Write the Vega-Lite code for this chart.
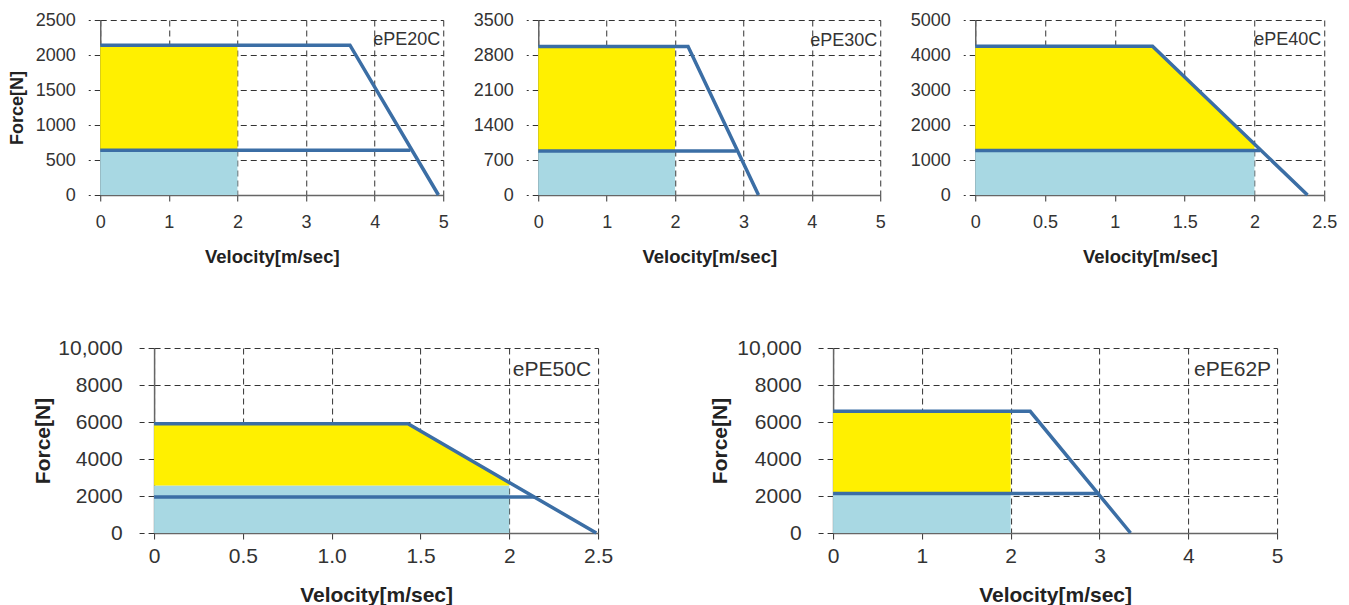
{
  "$schema": "https://vega.github.io/schema/vega-lite/v6.json",
  "background": "white",
  "padding": {"left": 8, "top": 11, "right": 5, "bottom": 0},
  "config": {
    "view": {"stroke": null},
    "font": "Liberation Sans",
    "axis": {
      "grid": true,
      "gridDash": [6, 4],
      "gridColor": "#333333",
      "gridOpacity": 1,
      "gridWidth": 1,
      "tickDash": [6, 4],
      "tickColor": "#333333",
      "tickWidth": 1,
      "tickCount": 12,
      "domainColor": "#666666",
      "domainWidth": 1.5,
      "labelColor": "#333333",
      "titleColor": "#222222",
      "labelFont": "Liberation Sans",
      "titleFont": "Liberation Sans",
      "titleFontWeight": "bold",
      "labelFlush": false,
      "labelOverlap": false,
      "zindex": 1
    }
  },
  "datasets": {
    "fill20": [
      {"zone": "rated", "v": 0, "top": 640, "bot": 0},
      {"zone": "rated", "v": 2, "top": 640, "bot": 0},
      {"zone": "peak", "v": 0, "top": 2140, "bot": 640},
      {"zone": "peak", "v": 2, "top": 2140, "bot": 640}
    ],
    "line20": [
      {"curve": "peak", "v": 0, "f": 2140},
      {"curve": "peak", "v": 3.64, "f": 2140},
      {"curve": "peak", "v": 4.93, "f": 0},
      {"curve": "rated", "v": 0, "f": 640},
      {"curve": "rated", "v": 4.52, "f": 640}
    ],
    "fill30": [
      {"zone": "rated", "v": 0, "top": 880, "bot": 0},
      {"zone": "rated", "v": 2, "top": 880, "bot": 0},
      {"zone": "peak", "v": 0, "top": 2970, "bot": 880},
      {"zone": "peak", "v": 2, "top": 2970, "bot": 880}
    ],
    "line30": [
      {"curve": "peak", "v": 0, "f": 2970},
      {"curve": "peak", "v": 2.19, "f": 2970},
      {"curve": "peak", "v": 3.22, "f": 0},
      {"curve": "rated", "v": 0, "f": 880},
      {"curve": "rated", "v": 2.9, "f": 880}
    ],
    "fill40": [
      {"zone": "rated", "v": 0, "top": 1270, "bot": 0},
      {"zone": "rated", "v": 2, "top": 1270, "bot": 0},
      {"zone": "peak", "v": 0, "top": 4250, "bot": 1270},
      {"zone": "peak", "v": 1.27, "top": 4250, "bot": 1270},
      {"zone": "peak", "v": 2, "top": 1455, "bot": 1270}
    ],
    "line40": [
      {"curve": "peak", "v": 0, "f": 4250},
      {"curve": "peak", "v": 1.27, "f": 4250},
      {"curve": "peak", "v": 2.38, "f": 0},
      {"curve": "rated", "v": 0, "f": 1270},
      {"curve": "rated", "v": 2.04, "f": 1270}
    ],
    "fill50": [
      {"zone": "rated", "v": 0, "top": 2570, "bot": 0},
      {"zone": "rated", "v": 2, "top": 2570, "bot": 0},
      {"zone": "peak", "v": 0, "top": 5900, "bot": 2570},
      {"zone": "peak", "v": 1.43, "top": 5900, "bot": 2570},
      {"zone": "peak", "v": 2, "top": 2717, "bot": 2570}
    ],
    "line50": [
      {"curve": "peak", "v": 0, "f": 5900},
      {"curve": "peak", "v": 1.43, "f": 5900},
      {"curve": "peak", "v": 2.49, "f": 0},
      {"curve": "rated", "v": 0, "f": 1950},
      {"curve": "rated", "v": 2.14, "f": 1950}
    ],
    "fill62": [
      {"zone": "rated", "v": 0, "top": 2130, "bot": 0},
      {"zone": "rated", "v": 2, "top": 2130, "bot": 0},
      {"zone": "peak", "v": 0, "top": 6580, "bot": 2130},
      {"zone": "peak", "v": 2, "top": 6580, "bot": 2130}
    ],
    "line62": [
      {"curve": "peak", "v": 0, "f": 6580},
      {"curve": "peak", "v": 2.22, "f": 6580},
      {"curve": "peak", "v": 3.35, "f": 0},
      {"curve": "rated", "v": 0, "f": 2130},
      {"curve": "rated", "v": 3.0, "f": 2130}
    ]
  },
  "spacing": 71,
  "center": true,
  "vconcat": [
    {
      "hconcat": [
        {
          "width": 343, "height": 175,
          "layer": [
            {
              "data": {"name": "fill20"},
              "mark": {"type": "area", "opacity": 1},
              "encoding": {
                "x": {"field": "v", "type": "quantitative", "scale": {"domain": [0, 5], "nice": false},
                  "axis": {"values": [0, 1, 2, 3, 4, 5], "tickCount": 12, "format": "d", "labelOverlap": false, "title": "Velocity[m/sec]", "labelFontSize": 18, "titleFontSize": 18.5, "tickSize": 6, "labelPadding": 12, "titlePadding": 16}},
                "y": {"field": "top", "type": "quantitative", "scale": {"domain": [0, 2500], "nice": false},
                  "axis": {"values": [0, 500, 1000, 1500, 2000, 2500], "tickCount": 12, "format": "d", "labelOverlap": false, "title": "Force[N]", "labelFontSize": 18, "titleFontSize": 18, "tickSize": 12, "labelPadding": 13, "titlePadding": 9}},
                "y2": {"field": "bot"},
                "color": {"field": "zone", "type": "nominal", "scale": {"domain": ["rated", "peak"], "range": ["#a8d8e3", "#fff000"]}, "legend": null}
              }
            },
            {
              "data": {"name": "line20"},
              "mark": {"type": "line", "color": "#3b6ea5", "strokeWidth": 3.5},
              "encoding": {
                "x": {"field": "v", "type": "quantitative"},
                "y": {"field": "f", "type": "quantitative"},
                "detail": {"field": "curve"}
              }
            },
            {
              "data": {"values": [{"label": "ePE20C"}]},
              "mark": {"type": "text", "align": "right", "baseline": "middle", "dx": -3, "dy": 20, "fontSize": 18, "color": "#333333"},
              "encoding": {"x": {"datum": 5}, "y": {"datum": 2500}, "text": {"field": "label"}}
            }
          ]
        },
        {
          "width": 342, "height": 175,
          "layer": [
            {
              "data": {"name": "fill30"},
              "mark": {"type": "area", "opacity": 1},
              "encoding": {
                "x": {"field": "v", "type": "quantitative", "scale": {"domain": [0, 5], "nice": false},
                  "axis": {"values": [0, 1, 2, 3, 4, 5], "tickCount": 12, "format": "d", "labelOverlap": false, "title": "Velocity[m/sec]", "labelFontSize": 18, "titleFontSize": 18.5, "tickSize": 6, "labelPadding": 12, "titlePadding": 16}},
                "y": {"field": "top", "type": "quantitative", "scale": {"domain": [0, 3500], "nice": false},
                  "axis": {"values": [0, 700, 1400, 2100, 2800, 3500], "tickCount": 12, "format": "d", "labelOverlap": false, "title": null, "labelFontSize": 18, "tickSize": 12, "labelPadding": 13}},
                "y2": {"field": "bot"},
                "color": {"field": "zone", "type": "nominal", "scale": {"domain": ["rated", "peak"], "range": ["#a8d8e3", "#fff000"]}, "legend": null}
              }
            },
            {
              "data": {"name": "line30"},
              "mark": {"type": "line", "color": "#3b6ea5", "strokeWidth": 3.5},
              "encoding": {
                "x": {"field": "v", "type": "quantitative"},
                "y": {"field": "f", "type": "quantitative"},
                "detail": {"field": "curve"}
              }
            },
            {
              "data": {"values": [{"label": "ePE30C"}]},
              "mark": {"type": "text", "align": "right", "baseline": "middle", "dx": -3, "dy": 21, "fontSize": 18, "color": "#333333"},
              "encoding": {"x": {"datum": 5}, "y": {"datum": 3500}, "text": {"field": "label"}}
            }
          ]
        },
        {
          "width": 349, "height": 175,
          "layer": [
            {
              "data": {"name": "fill40"},
              "mark": {"type": "area", "opacity": 1},
              "encoding": {
                "x": {"field": "v", "type": "quantitative", "scale": {"domain": [0, 2.5], "nice": false},
                  "axis": {"values": [0, 0.5, 1, 1.5, 2, 2.5], "tickCount": 12, "format": "~g", "labelOverlap": false, "title": "Velocity[m/sec]", "labelFontSize": 18, "titleFontSize": 18.5, "tickSize": 6, "labelPadding": 12, "titlePadding": 16}},
                "y": {"field": "top", "type": "quantitative", "scale": {"domain": [0, 5000], "nice": false},
                  "axis": {"values": [0, 1000, 2000, 3000, 4000, 5000], "tickCount": 12, "format": "d", "labelOverlap": false, "title": null, "labelFontSize": 18, "tickSize": 12, "labelPadding": 13}},
                "y2": {"field": "bot"},
                "color": {"field": "zone", "type": "nominal", "scale": {"domain": ["rated", "peak"], "range": ["#a8d8e3", "#fff000"]}, "legend": null}
              }
            },
            {
              "data": {"name": "line40"},
              "mark": {"type": "line", "color": "#3b6ea5", "strokeWidth": 3.5},
              "encoding": {
                "x": {"field": "v", "type": "quantitative"},
                "y": {"field": "f", "type": "quantitative"},
                "detail": {"field": "curve"}
              }
            },
            {
              "data": {"values": [{"label": "ePE40C"}]},
              "mark": {"type": "text", "align": "right", "baseline": "middle", "dx": -3, "dy": 20, "fontSize": 18, "color": "#333333"},
              "encoding": {"x": {"datum": 2.5}, "y": {"datum": 5000}, "text": {"field": "label"}}
            }
          ]
        }
      ],
      "spacing": 95,
      "bounds": "flush"
    },
    {
      "hconcat": [
        {
          "width": 444, "height": 185,
          "layer": [
            {
              "data": {"name": "fill50"},
              "mark": {"type": "area", "opacity": 1},
              "encoding": {
                "x": {"field": "v", "type": "quantitative", "scale": {"domain": [0, 2.5], "nice": false},
                  "axis": {"values": [0, 0.5, 1, 1.5, 2, 2.5], "tickCount": 12, "labelExpr": "datum.value == 1 ? '1.0' : format(datum.value, '~g')", "labelOverlap": false, "title": "Velocity[m/sec]", "labelFontSize": 21, "titleFontSize": 21, "tickSize": 10, "labelPadding": 2, "titlePadding": 18}},
                "y": {"field": "top", "type": "quantitative", "scale": {"domain": [0, 10000], "nice": false},
                  "axis": {"values": [0, 2000, 4000, 6000, 8000, 10000], "tickCount": 12, "labelExpr": "datum.value == 10000 ? '10,000' : format(datum.value, 'd')", "labelOverlap": false, "title": "Force[N]", "labelFontSize": 21, "titleFontSize": 21, "tickSize": 15, "labelPadding": 17, "titlePadding": 4}},
                "y2": {"field": "bot"},
                "color": {"field": "zone", "type": "nominal", "scale": {"domain": ["rated", "peak"], "range": ["#a8d8e3", "#fff000"]}, "legend": null}
              }
            },
            {
              "data": {"name": "line50"},
              "mark": {"type": "line", "color": "#3b6ea5", "strokeWidth": 3.5},
              "encoding": {
                "x": {"field": "v", "type": "quantitative"},
                "y": {"field": "f", "type": "quantitative"},
                "detail": {"field": "curve"}
              }
            },
            {
              "data": {"values": [{"label": "ePE50C"}]},
              "mark": {"type": "text", "align": "right", "baseline": "middle", "dx": -7, "dy": 22, "fontSize": 21, "color": "#333333"},
              "encoding": {"x": {"datum": 2.5}, "y": {"datum": 10000}, "text": {"field": "label"}}
            }
          ]
        },
        {
          "width": 444, "height": 185,
          "layer": [
            {
              "data": {"name": "fill62"},
              "mark": {"type": "area", "opacity": 1},
              "encoding": {
                "x": {"field": "v", "type": "quantitative", "scale": {"domain": [0, 5], "nice": false},
                  "axis": {"values": [0, 1, 2, 3, 4, 5], "tickCount": 12, "format": "d", "labelOverlap": false, "title": "Velocity[m/sec]", "labelFontSize": 21, "titleFontSize": 21, "tickSize": 10, "labelPadding": 2, "titlePadding": 18}},
                "y": {"field": "top", "type": "quantitative", "scale": {"domain": [0, 10000], "nice": false},
                  "axis": {"values": [0, 2000, 4000, 6000, 8000, 10000], "tickCount": 12, "labelExpr": "datum.value == 10000 ? '10,000' : format(datum.value, 'd')", "labelOverlap": false, "title": "Force[N]", "labelFontSize": 21, "titleFontSize": 21, "tickSize": 15, "labelPadding": 17, "titlePadding": 6}},
                "y2": {"field": "bot"},
                "color": {"field": "zone", "type": "nominal", "scale": {"domain": ["rated", "peak"], "range": ["#a8d8e3", "#fff000"]}, "legend": null}
              }
            },
            {
              "data": {"name": "line62"},
              "mark": {"type": "line", "color": "#3b6ea5", "strokeWidth": 3.5},
              "encoding": {
                "x": {"field": "v", "type": "quantitative"},
                "y": {"field": "f", "type": "quantitative"},
                "detail": {"field": "curve"}
              }
            },
            {
              "data": {"values": [{"label": "ePE62P"}]},
              "mark": {"type": "text", "align": "right", "baseline": "middle", "dx": -6, "dy": 22, "fontSize": 21, "color": "#333333"},
              "encoding": {"x": {"datum": 5}, "y": {"datum": 10000}, "text": {"field": "label"}}
            }
          ]
        }
      ],
      "spacing": 235,
      "bounds": "flush"
    }
  ]
}
